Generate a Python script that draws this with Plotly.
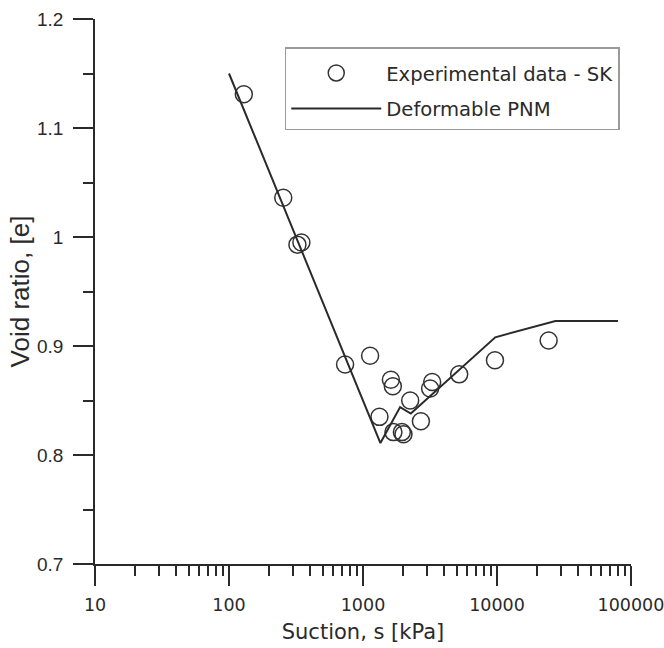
import plotly.graph_objects as go

# Experimental data - SK
exp_suction = [129, 254, 324, 347, 735, 1130, 1327, 1615, 1670, 1687, 1950, 2005,
               2250, 2705, 3170, 3283, 5224, 9660, 24300]
exp_void = [1.131, 1.036, 0.993, 0.995, 0.883, 0.891, 0.835, 0.869, 0.863, 0.821,
            0.821, 0.819, 0.850, 0.831, 0.861, 0.867, 0.874, 0.887, 0.905]

# Deformable PNM
pnm_suction = [100, 1349, 1892, 2274, 9710, 27300, 80000]
pnm_void = [1.150, 0.811, 0.844, 0.838, 0.908, 0.923, 0.923]

x_major = [10, 100, 1000, 10000, 100000]
x_major_text = ["10", "100", "1000", "10000", "100000"]
x_minor = [m * d for d in [10, 100, 1000, 10000] for m in range(2, 10)]
y_major = [0.7, 0.8, 0.9, 1.0, 1.1, 1.2]
y_major_text = ["0.7", "0.8", "0.9", "1", "1.1", "1.2"]

ink = "#2a2a2a"

fig = go.Figure()
fig.add_trace(go.Scatter(
    x=exp_suction, y=exp_void, mode="markers", name="Experimental data - SK",
    legendgroup="a",
    marker=dict(symbol="circle-open", size=17, color="#333333", line=dict(width=1.5)),
))
fig.add_trace(go.Scatter(
    x=pnm_suction, y=pnm_void, mode="lines", name="Deformable PNM",
    legendgroup="b",
    line=dict(color=ink, width=2),
))

fig.update_layout(
    width=664, height=648,
    margin=dict(l=95, r=33, t=19, b=84),
    paper_bgcolor="white", plot_bgcolor="white",
    font=dict(family="DejaVu Sans", color=ink),
    showlegend=True,
    legend=dict(
        x=0.354, y=0.9486, xanchor="left", yanchor="top",
        bordercolor="#9a9a9a", borderwidth=1.5,
        font=dict(family="DejaVu Sans", size=19.6, color=ink),
        title=dict(text=" ", font=dict(size=4)),
        itemwidth=90, traceorder="grouped", tracegroupgap=7,
        bgcolor="white",
    ),
    xaxis=dict(
        type="log", range=[0.9998, 5.0002], automargin=False,
        tickmode="array", tickvals=x_major, ticktext=x_major_text,
        ticks="outside", ticklen=20, tickwidth=1.6, tickcolor=ink,
        ticklabelstandoff=4, ticklabeloverflow="allow",
        showline=True, linecolor=ink, linewidth=1.6,
        showgrid=False, zeroline=False,
        tickfont=dict(family="DejaVu Sans", size=17.5, color=ink),
        title=dict(text="Suction, s [kPa]", font=dict(family="DejaVu Sans", size=21, color=ink), standoff=11),
        minor=dict(tickmode="array", tickvals=x_minor, ticks="outside", ticklen=10,
                   tickwidth=1.6, tickcolor=ink, showgrid=False),
    ),
    yaxis=dict(
        range=[0.7, 1.2], automargin=False,
        tickmode="array", tickvals=y_major, ticktext=y_major_text,
        ticks="outside", ticklen=20, tickwidth=1.6, tickcolor=ink,
        ticklabelstandoff=6,
        showline=True, linecolor=ink, linewidth=1.6,
        showgrid=False, zeroline=False,
        tickfont=dict(family="Liberation Sans", size=19, color=ink),
        title=dict(text="Void ratio, [e]", font=dict(family="Liberation Sans", size=26, color=ink), standoff=0),
        minor=dict(dtick=0.05, ticks="outside", ticklen=10, tickwidth=1.6,
                   tickcolor=ink, showgrid=False),
    ),
)

fig.write_html("out.html")
